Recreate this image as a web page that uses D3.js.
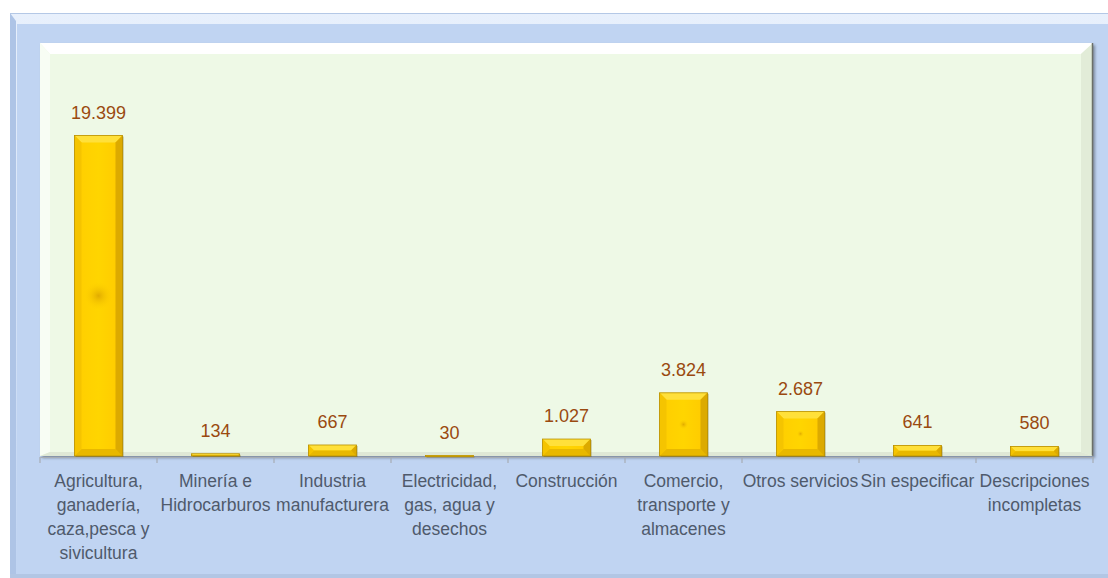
<!DOCTYPE html>
<html><head><meta charset="utf-8">
<script src="https://cdn.jsdelivr.net/npm/d3@7"></script>
<style>body{margin:0;background:#fff}svg{display:block}</style>
</head><body>
<svg id="chart" width="1108" height="578"></svg>
<script>
const categories = [
  "Agricultura,\nganadería,\ncaza,pesca y\nsivicultura",
  "Minería e\nHidrocarburos",
  "Industria\nmanufacturera",
  "Electricidad,\ngas, agua y\ndesechos",
  "Construcción",
  "Comercio,\ntransporte y\nalmacenes",
  "Otros servicios",
  "Sin especificar",
  "Descripciones\nincompletas"
];
const values = [19399, 134, 667, 30, 1027, 3824, 2687, 641, 580];
const valueLabels = ["19.399", "134", "667", "30", "1.027", "3.824", "2.687", "641", "580"];
const yMax = 25000;

const svg = d3.select("#chart");
const defs = svg.append("defs");

const og = defs.append("linearGradient").attr("id","outerTop").attr("x1",0).attr("y1",0).attr("x2",0).attr("y2",1);
og.append("stop").attr("offset",0).attr("stop-color","#e8f0fc");
og.append("stop").attr("offset",1).attr("stop-color","#c0d4f2");

const bg = defs.append("linearGradient").attr("id","barG").attr("x1",0).attr("y1",0).attr("x2",1).attr("y2",0);
bg.append("stop").attr("offset",0).attr("stop-color","#f2c000");
bg.append("stop").attr("offset",0.12).attr("stop-color","#ffcf00");
bg.append("stop").attr("offset",0.5).attr("stop-color","#ffd500");
bg.append("stop").attr("offset",0.88).attr("stop-color","#ffcc00");
bg.append("stop").attr("offset",1).attr("stop-color","#e0ad00");

const rg = defs.append("radialGradient").attr("id","spot");
rg.append("stop").attr("offset",0).attr("stop-color","#c88a00").attr("stop-opacity",0.55);
rg.append("stop").attr("offset",1).attr("stop-color","#ffcc00").attr("stop-opacity",0);

const sh = defs.append("filter").attr("id","shadow").attr("x","-5%").attr("y","-5%").attr("width","110%").attr("height","110%");
sh.append("feDropShadow").attr("dx",2).attr("dy",2).attr("stdDeviation",1.5).attr("flood-color","#000").attr("flood-opacity",0.35);

// Outer frame
const F = {x:10, y:13, w:1108, h:578};
svg.append("rect").attr("x",F.x).attr("y",F.y).attr("width",F.w).attr("height",F.h).attr("fill","#c0d4f2");
svg.append("path").attr("d",`M${F.x},${F.y} H${F.w} V${F.y+11} H${F.x+7} V${F.h} H${F.x} Z`).attr("fill","url(#outerTop)");
svg.append("path").attr("d",`M${F.x},${F.y} V${F.h} H${F.x+6} V${F.y+8} Z`).attr("fill","#aec4e6");
svg.append("line").attr("x1",F.x).attr("x2",F.w).attr("y1",F.y+0.5).attr("y2",F.y+0.5).attr("stroke","#b4c8e6");
svg.append("rect").attr("x",F.x).attr("y",574).attr("width",F.w).attr("height",4).attr("fill","#b2c6e4");

// Plot area
const P = {left:40, top:43, right:1093, bottom:456};
svg.append("rect").attr("x",P.left).attr("y",P.top).attr("width",P.right-P.left).attr("height",P.bottom-P.top)
  .attr("fill","#eef9e6").attr("filter","url(#shadow)");
svg.append("path").attr("d",`M${P.left},${P.top} H${P.right} L${P.right-12},${P.top+11} H${P.left+10} Z`).attr("fill","#ffffff");
svg.append("path").attr("d",`M${P.left},${P.top} L${P.left+10},${P.top+11} V${P.bottom-4} L${P.left},${P.bottom} Z`).attr("fill","#f8fdf4");
svg.append("path").attr("d",`M${P.right},${P.top} L${P.right-12},${P.top+11} V${P.bottom-4} L${P.right},${P.bottom} Z`).attr("fill","#e2ecd8");
svg.append("line").attr("x1",P.right-0.5).attr("x2",P.right-0.5).attr("y1",P.top).attr("y2",P.bottom).attr("stroke","#6b6f68").attr("stroke-width",1.5);
svg.append("path").attr("d",`M${P.left},${P.bottom} L${P.left+10},${P.bottom-4} H${P.right-12} L${P.right},${P.bottom} Z`).attr("fill","#dfe8d6");

const x = d3.scaleBand().domain(d3.range(categories.length)).range([P.left, P.right]).paddingInner(0).paddingOuter(0);
const y = d3.scaleLinear().domain([0, yMax]).range([P.bottom, P.top]);
const bw = x.bandwidth() * 0.41;

const axis = d3.axisBottom(x).tickSize(0).tickFormat("");
const ag = svg.append("g").attr("transform",`translate(0,${P.bottom+1})`).call(axis);
ag.select(".domain").attr("stroke","#a6acb4").attr("stroke-width",1.2);
const bounds = d3.range(categories.length+1).map(i => P.left + i*x.step());
svg.append("g").selectAll("line").data(bounds).join("line")
  .attr("x1",d=>d).attr("x2",d=>d).attr("y1",P.bottom+1).attr("y2",P.bottom+7)
  .attr("stroke","#a6acb4").attr("stroke-width",1.2);

const bars = svg.append("g").selectAll("g").data(values).join("g")
  .attr("transform",(d,i)=>`translate(${x(i)+x.bandwidth()/2 - bw/2},${y(d)})`);
bars.each(function(d){
  const g = d3.select(this);
  const h = Math.max(y(0)-y(d), 1);
  const b = Math.min(7, h/2, bw/2);
  g.append("rect").attr("x",1).attr("y",1).attr("width",bw).attr("height",h).attr("fill","#6b5a00").attr("opacity",0.5);
  g.append("rect").attr("width",bw).attr("height",h).attr("fill","url(#barG)");
  g.append("path").attr("d",`M0,0 H${bw} L${bw-b},${b} H${b} Z`).attr("fill","#ffe03a");
  g.append("path").attr("d",`M0,${h} H${bw} L${bw-b},${h-b} H${b} Z`).attr("fill","#e8b800");
  g.append("path").attr("d",`M0,0 L${b},${b} V${h-b} L0,${h} Z`).attr("fill","#f5c400");
  g.append("path").attr("d",`M${bw},0 L${bw-b},${b} V${h-b} L${bw},${h} Z`).attr("fill","#dcaa00");
  if (h > 20) {
    const r = Math.min(bw*0.3, h*0.08);
    g.append("circle").attr("cx",bw/2).attr("cy",h/2).attr("r",Math.max(r,3)).attr("fill","url(#spot)");
  }
  g.append("rect").attr("width",bw).attr("height",h).attr("fill","none").attr("stroke","#b89000").attr("stroke-width",0.8);
});

svg.append("g").selectAll("text").data(values).join("text")
  .attr("x",(d,i)=>x(i)+x.bandwidth()/2)
  .attr("y",d=>y(d)-17)
  .attr("text-anchor","middle")
  .attr("font-family","Liberation Sans, Arial, sans-serif")
  .attr("font-size","18px")
  .attr("fill","#9a4a10")
  .text((d,i)=>valueLabels[i]);

const cl = svg.append("g").selectAll("text").data(categories).join("text")
  .attr("x",(d,i)=>x(i)+x.bandwidth()/2)
  .attr("y",487)
  .attr("text-anchor","middle")
  .attr("font-family","Liberation Sans, Arial, sans-serif")
  .attr("font-size","17.5px")
  .attr("fill","#4f5a6c");
cl.each(function(d,i){
  const t = d3.select(this);
  d.split("\n").forEach((line,k)=>{
    t.append("tspan").attr("x",x(i)+x.bandwidth()/2).attr("dy",k===0?0:24).text(line);
  });
});
</script>
</body></html>
